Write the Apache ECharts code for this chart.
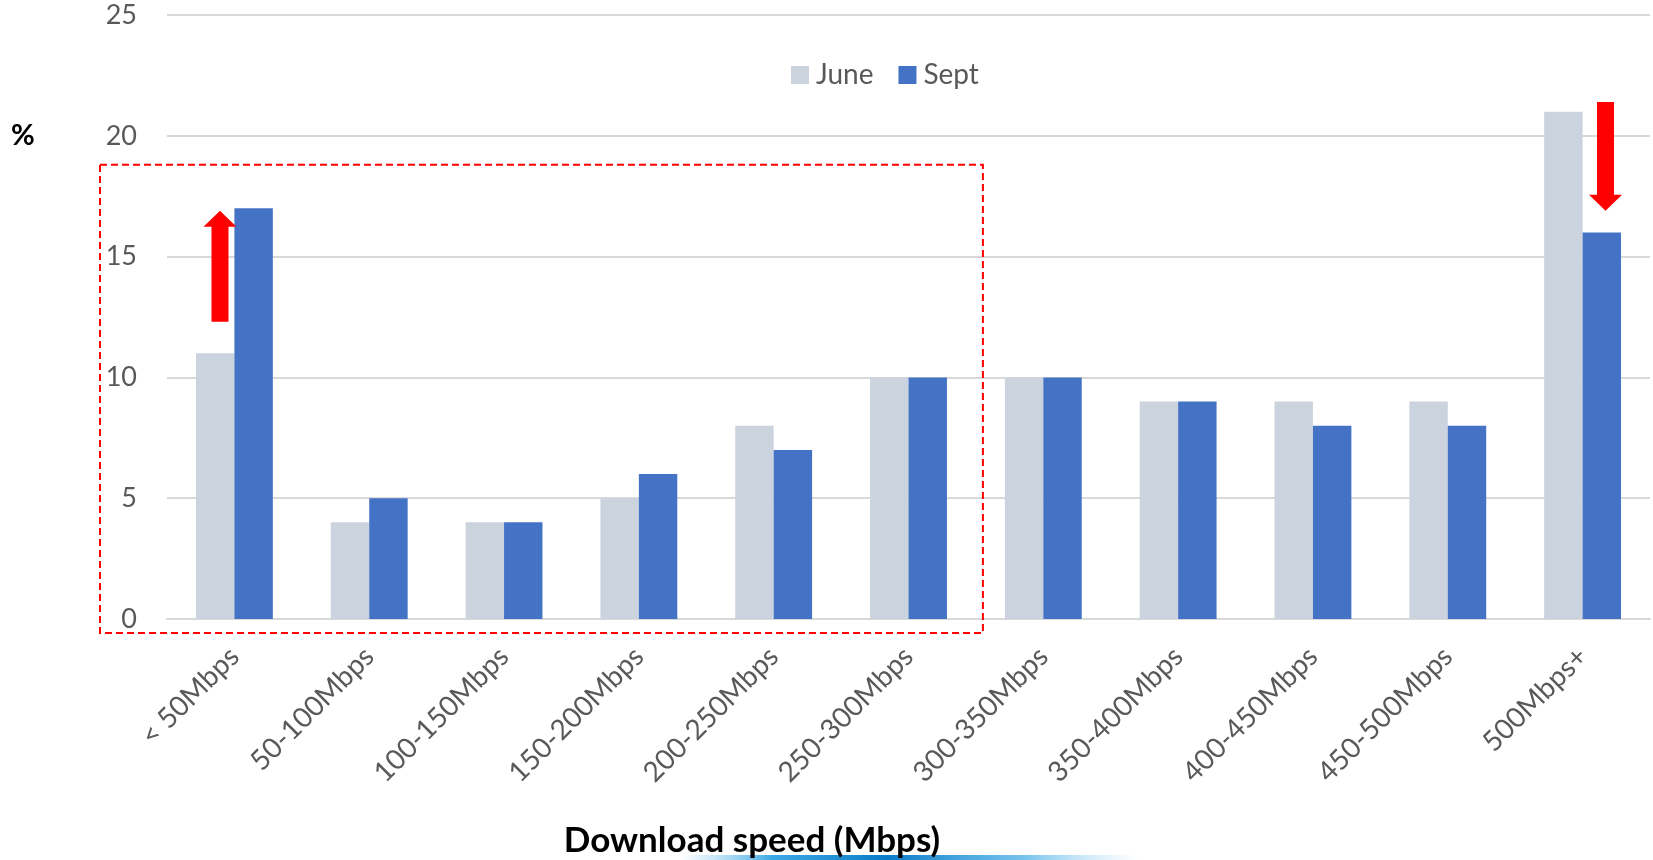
<!DOCTYPE html>
<html>
<head>
<meta charset="utf-8">
<title>Download speed distribution</title>
<script src="https://cdn.jsdelivr.net/npm/echarts@6/dist/echarts.min.js"></script>
<style>
  html, body { margin: 0; padding: 0; background: #ffffff; }
  #chart { width: 1653px; height: 860px; }
</style>
</head>
<body>
<div id="chart"></div>
<script>
// Share of connections per download-speed band (%)
const categories = ['< 50Mbps', '50-100Mbps', '100-150Mbps', '150-200Mbps', '200-250Mbps',
  '250-300Mbps', '300-350Mbps', '350-400Mbps', '400-450Mbps', '450-500Mbps', '500Mbps+'];
const juneValues = [11, 4, 4, 5, 8, 10, 10, 9, 9, 9, 21];
const septValues = [17, 5, 4, 6, 7, 10, 10, 9, 8, 8, 16];
const seriesNames = ['June', 'Sept'];

// Value axis range
const yMin = 0;
const yMax = 25;
const yStep = 5;

// Change arrows: category, start value, end value
const arrowCats = [0, 10];
const arrowFrom = [12.3, 21.4];
const arrowTo = [16.9, 16.9];

// Highlighted group of bands and the top of its frame (value)
const boxCats = [0, 5];
const boxTop = 18.8;

const FONT = 'Lato, "Open Sans", sans-serif';
const TEXT_GREY = '#595959';

const chart = echarts.init(document.getElementById('chart'), null, { renderer: 'canvas' });

chart.setOption({
  animation: false,
  backgroundColor: '#ffffff',
  title: [
    {
      text: 'Download speed (Mbps)',
      left: 747, top: 818, textAlign: 'center',
      textStyle: { fontFamily: FONT, fontWeight: 'bold', fontSize: 35, color: '#000000' }
    },
    {
      text: '%',
      left: 6, top: 116,
      textStyle: { fontFamily: FONT, fontWeight: 'bold', fontSize: 29, color: '#000000' }
    }
  ],
  legend: {
    data: seriesNames,
    left: 786, top: 56,
    icon: 'rect', itemWidth: 18, itemHeight: 18, itemGap: 25,
    textStyle: { fontFamily: FONT, fontSize: 28, color: TEXT_GREY, padding: [0, 0, 0, 2] }
  },
  grid: { left: 167, right: 3, top: 15, bottom: 241, containLabel: false },
  xAxis: {
    type: 'category',
    data: categories,
    axisLine: { show: true, lineStyle: { color: '#D9D9D9', width: 2 } },
    axisTick: { show: false },
    axisLabel: {
      rotate: 45, interval: 0, margin: 33,
      padding: [50, 0, 0, 0],
      fontFamily: FONT, fontSize: 28, color: TEXT_GREY
    }
  },
  yAxis: {
    type: 'value',
    min: yMin, max: yMax, interval: yStep,
    axisLine: { show: false },
    axisTick: { show: false },
    axisLabel: { margin: 30, fontFamily: FONT, fontSize: 27, color: TEXT_GREY },
    splitLine: { lineStyle: { color: '#D9D9D9', width: 2 } }
  },
  series: [
    {
      name: seriesNames[0], type: 'bar', data: juneValues,
      barGap: '0%', barCategoryGap: '43%',
      itemStyle: { color: '#CBD3DE' }
    },
    {
      name: seriesNames[1], type: 'bar', data: septValues,
      barGap: '0%', barCategoryGap: '43%',
      itemStyle: { color: '#4472C4' }
    }
  ]
});

// Annotations placed through the chart's own scales
function px(cat) { return chart.convertToPixel({ xAxisIndex: 0 }, cat); }
function py(val) { return chart.convertToPixel({ yAxisIndex: 0 }, val); }

const band = px(1) - px(0);
const arrowShift = [-0.107, 0.17];   // horizontal offset from the band centre, in bands
const shaftHalf = 8.5, headHalf = 16.5, headLen = 16;

const graphics = [];

arrowCats.forEach(function (cat, i) {
  const x = px(cat) + arrowShift[i] * band;
  const baseY = py(arrowFrom[i]);
  const tipY = py(arrowTo[i]);
  const s = baseY > tipY ? 1 : -1;
  const headBase = tipY + s * headLen;
  graphics.push({
    type: 'polygon',
    shape: {
      points: [
        [x - shaftHalf, baseY], [x - shaftHalf, headBase], [x - headHalf, headBase],
        [x, tipY], [x + headHalf, headBase], [x + shaftHalf, headBase], [x + shaftHalf, baseY]
      ]
    },
    style: { fill: '#FF0000' },
    z: 10
  });
});

// Dashed frame around the lower speed bands
const boxLeft = px(boxCats[0]) - band / 2 - 67;
const boxRight = px(boxCats[1]) + band / 2 + 7;
const boxY0 = py(boxTop);
const boxY1 = py(0) + 14;
graphics.push({
  type: 'rect',
  shape: { x: boxLeft, y: boxY0, width: boxRight - boxLeft, height: boxY1 - boxY0 },
  style: { fill: null, stroke: '#FF0000', lineWidth: 2, lineDash: [7, 4] },
  z: 10
});

// Thin blue swoosh under the axis title
graphics.push({
  type: 'rect',
  shape: { x: 680, y: 855, width: 460, height: 5 },
  style: {
    fill: new echarts.graphic.LinearGradient(0, 0, 1, 0, [
      { offset: 0, color: 'rgba(120,200,240,0)' },
      { offset: 0.2, color: 'rgba(40,160,225,0.9)' },
      { offset: 0.45, color: '#0A7BC8' },
      { offset: 0.75, color: 'rgba(60,170,230,0.7)' },
      { offset: 1, color: 'rgba(150,210,245,0)' }
    ])
  },
  z: 1
});

chart.setOption({ graphic: graphics });
</script>
</body>
</html>
